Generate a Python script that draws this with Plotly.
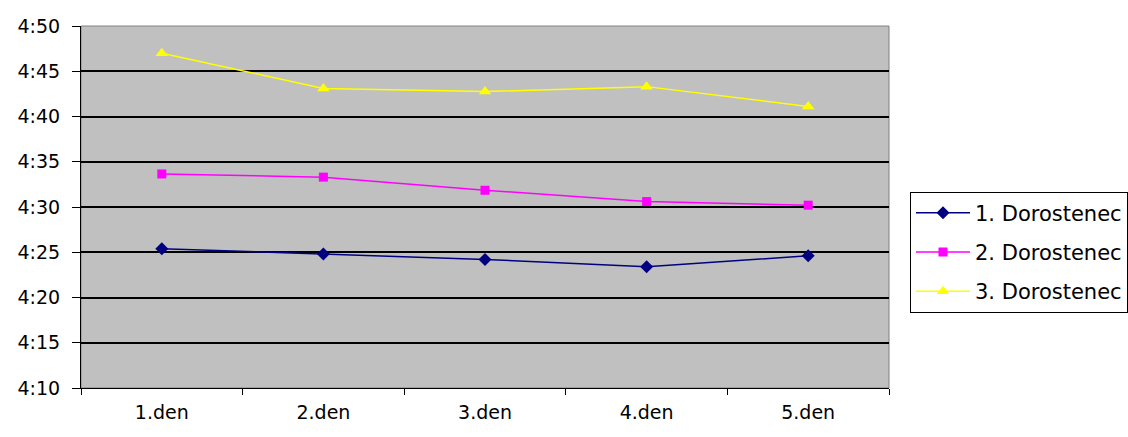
import plotly.graph_objects as go

days = ["1.den", "2.den", "3.den", "4.den", "5.den"]
# times in seconds (4:00 = 240 s)
dorostenec_1 = [265.4, 264.8, 264.2, 263.4, 264.6]
dorostenec_2 = [273.65, 273.3, 271.85, 270.6, 270.2]
dorostenec_3 = [287.0, 283.1, 282.75, 283.3, 281.1]
series_names = ["1. Dorostenec", "2. Dorostenec", "3. Dorostenec"]
y_tick_seconds = [250, 255, 260, 265, 270, 275, 280, 285, 290]
y_tick_labels = ["4:10", "4:15", "4:20", "4:25", "4:30", "4:35", "4:40", "4:45", "4:50"]

styles = [
    dict(color="#000080", symbol="diamond", size=10),
    dict(color="#FF00FF", symbol="square", size=9),
    dict(color="#FFFF00", symbol="triangle-up", size=11),
]

fig = go.Figure()
for i, (name, vals, st) in enumerate(zip(series_names, [dorostenec_1, dorostenec_2, dorostenec_3], styles)):
    fig.add_trace(go.Scatter(
        x=days, y=vals, name=name, mode="lines+markers",
        legendgroup=f"g{i}",
        line=dict(color=st["color"], width=1.5),
        marker=dict(color=st["color"], symbol=st["symbol"], size=st["size"]),
    ))

font_family = "DejaVu Sans"
fs = 19

fig.update_layout(
    width=1128, height=437,
    margin=dict(l=81, r=239, t=26, b=49, autoexpand=False),
    paper_bgcolor="white",
    plot_bgcolor="#C0C0C0",
    font=dict(family=font_family, size=fs, color="#000"),
    showlegend=True,
    legend=dict(
        x=(910 - 81) / 808, xanchor="left",
        y=(388 - 252) / 362, yanchor="middle",
        bgcolor="white", bordercolor="black", borderwidth=1,
        font=dict(family=font_family, size=21, color="#000"),
        traceorder="grouped", tracegroupgap=9, itemwidth=54,
    ),
    shapes=[dict(type="rect", xref="paper", yref="paper", x0=0, x1=1, y0=0, y1=1,
                 line=dict(color="#808080", width=1), layer="below")],
)

fig.update_xaxes(
    type="category", range=[-0.5, 4.5],
    showgrid=False, zeroline=False,
    showline=True, linecolor="black", linewidth=1,
    ticks="outside", tickson="boundaries", ticklen=6, tickcolor="black",
    ticklabelstandoff=7,
    tickfont=dict(family=font_family, size=fs, color="#000"),
)
fig.update_yaxes(
    range=[250, 290],
    tickvals=y_tick_seconds, ticktext=y_tick_labels,
    showgrid=True, gridcolor="#000000", gridwidth=1.5,
    zeroline=False,
    showline=True, linecolor="black", linewidth=1,
    ticks="outside", ticklen=8, tickcolor="black",
    ticklabelstandoff=8,
    tickfont=dict(family=font_family, size=fs, color="#000"),
)

fig.write_html("out.html")
